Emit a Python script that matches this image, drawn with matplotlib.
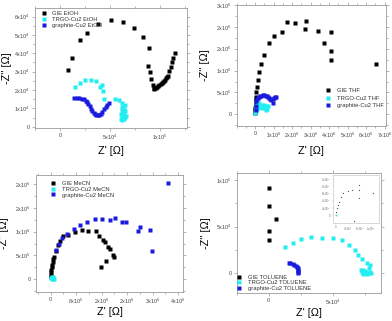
import matplotlib
matplotlib.use("Agg")
import matplotlib.pyplot as plt
from matplotlib.ticker import FixedLocator, AutoMinorLocator

plt.rcParams['font.family'] = ['Liberation Sans', 'DejaVu Sans']
plt.rcParams['mathtext.fontset'] = 'custom'
plt.rcParams['mathtext.rm'] = 'Liberation Sans'
plt.rcParams['mathtext.it'] = 'Liberation Sans'

W, H = 392, 321
BLACK, CYAN, BLUE = '#000000', '#22eef2', '#1a1adf'

# ---------------- EtOH (x in 1e3 Ohm, y in 1e4 Ohm) ----------------
gie_etoh_x = [8.3, 12.3, 20, 27.3, 38, 51, 63.3, 74.3, 83.3, 89.3, 88.3, 89.7, 91.2, 92.5,
              93.5, 94.3, 95.5, 96.7, 98.0, 99.3, 100.5, 101.7, 103.0, 104.0, 105.0, 106.0,
              107.2, 108.3, 109.3, 110.7, 112.0, 113.3, 115.0]
gie_etoh_y = [3.11, 3.77, 4.71, 5.08, 5.57, 5.80, 5.73, 5.40, 4.87, 4.31, 3.32, 2.96, 2.60, 2.30,
              2.12, 2.03, 2.09, 2.15, 2.22, 2.28, 2.34, 2.39, 2.45, 2.51, 2.57, 2.64, 2.70,
              2.75, 3.02, 3.28, 3.55, 3.74, 4.00]
trgo_etoh_x = [15, 20, 25, 30.7, 35.7, 40, 41.7, 43.3, 44, 55, 59, 61.7, 65, 62, 63.5, 61.5,
               64.5, 62.5, 64, 61, 63, 65.5, 62, 64, 62.5, 60.5, 63.5, 65, 61.5]
trgo_etoh_y = [2.15, 2.39, 2.52, 2.52, 2.48, 2.18, 2.25, 1.94, 1.53, 1.53, 1.44, 1.28, 1.17, 1.06,
               0.98, 0.92, 0.86, 0.80, 0.72, 0.68, 0.62, 0.58, 0.55, 0.50, 0.46, 0.42, 0.40, 0.52, 0.38]
graph_etoh_x = [14, 16.7, 19, 21.7, 24, 25.7, 27.3, 28.3, 29.7, 31, 32.3, 33.7, 35, 36.3,
                37.7, 39, 40.7, 42.3, 44, 45.7, 47.3, 49]
graph_etoh_y = [1.55, 1.58, 1.56, 1.52, 1.49, 1.43, 1.35, 1.26, 1.13, 0.99, 0.86, 0.77, 0.68,
                0.63, 0.63, 0.65, 0.72, 0.83, 0.95, 1.08, 1.20, 1.31]

# ---------------- THF (1e6 Ohm) ----------------
gie_thf_x = [0.0, 0.0, 0.01, 0.01, 0.02, 0.02, 0.03, 0.03, 0.02, 0.05, 0.09, 0.14, 0.23, 0.32,
             0.50, 0.74, 1.01, 1.46, 1.71, 2.16, 2.76, 2.72, 3.42, 4.09, 3.71, 4.13, 4.11, 6.54]
gie_thf_y = [0.02, 0.06, 0.10, 0.14, 0.18, 0.22, 0.28, 0.34, 0.40, 0.51, 0.62, 0.78, 0.97, 1.15,
             1.35, 1.62, 1.79, 1.89, 2.10, 2.09, 2.13, 1.96, 1.91, 1.89, 1.62, 1.45, 1.24, 1.14]
trgo_thf_x = [0.01, 0.02, 0.03, 0.05, 0.10, 0.20, 0.29, 0.38, 0.47, 0.54, 0.59, 0.63, 0.67,
              0.32, 0.23, 0.45, 0.60]
trgo_thf_y = [0.03, 0.08, 0.13, 0.18, 0.21, 0.25, 0.22, 0.20, 0.21, 0.17, 0.20, 0.12, 0.19,
              0.17, 0.14, 0.15, 0.10]
graph_thf_x = [0.02, 0.03, 0.05, 0.09, 0.14, 0.20, 0.27, 0.34, 0.41, 0.49, 0.56, 0.62, 0.68,
               0.75, 0.81, 0.88, 0.96, 0.99, 1.04, 1.08, 1.13]
graph_thf_y = [0.10, 0.20, 0.31, 0.35, 0.38, 0.40, 0.42, 0.43, 0.44, 0.44, 0.43, 0.41, 0.39,
               0.37, 0.34, 0.32, 0.27, 0.34, 0.37, 0.39, 0.40]

# ---------------- MeCN (1e6 Ohm) ----------------
gie_mecn_x = [0.0, 0.01, 0.01, 0.02, 0.03, 0.04, 0.06, 0.08, 0.11, 0.166, 0.24, 0.29, 0.40,
              0.55, 0.76, 0.97, 1.18, 1.42, 1.52, 1.65, 1.70, 1.81, 1.86, 1.96, 2.00, 1.73, 1.57]
gie_mecn_y = [0.05, 0.10, 0.15, 0.20, 0.25, 0.30, 0.36, 0.42, 0.475, 0.60, 0.71, 0.81, 0.91,
              0.93, 1.00, 1.04, 1.02, 1.01, 0.91, 0.83, 0.79, 0.67, 0.63, 0.51, 0.47, 0.38, 0.25]
trgo_mecn_x = [0.02, 0.05, 0.08, 0.06, 0.03, 0.10, 0.07, 0.04]
trgo_mecn_y = [0.02, 0.03, 0.02, 0.05, 0.04, 0.01, 0.00, 0.00]
graph_mecn_x = [0.18, 0.26, 0.36, 0.50, 0.73, 0.92, 1.15, 1.40, 1.62, 1.86, 2.03, 2.25, 2.36,
                2.73, 2.80, 3.11, 3.17, 3.67]
graph_mecn_y = [0.62, 0.74, 0.86, 0.95, 1.05, 1.14, 1.21, 1.26, 1.27, 1.25, 1.28, 1.20, 1.20,
                1.02, 1.10, 1.04, 0.59, 2.02]

# ---------------- TOLUENE (1e3 Ohm) ----------------
gie_tol_x = [0.5, 0.5, 5.7, 0.0, 0.0]
gie_tol_y = [91, 72, 58, 45.3, 35.7]
trgo_tol_x = [12.5, 18.7, 25.2, 33, 41.6, 50, 57.3, 63, 67.7, 70, 72.7, 76.8, 79.1, 78.1, 76,
              72, 73, 74, 75, 76, 77, 78, 79, 80, 73.5, 74.7]
trgo_tol_y = [28.5, 32.8, 36.4, 38.5, 38.1, 37.5, 35.7, 30, 25, 19.6, 15, 11.4, 8.9, 5.3, 1.8,
              3, 1, -0.5, 2, 0, -0.5, 0.5, 1, 0, 4, 0]
graph_tol_x = [15.6, 17, 18.7, 20, 21.3, 22.3, 22.7, 23, 23.1, 23.1, 23.1]
graph_tol_y = [11.4, 11, 10, 9, 7.8, 6.5, 5.3, 4, 2.5, 1, 0]
# inset (1e5 Ohm)
inset_x = [0, 0.1, 0.34, 0.69, 1.14, 1.7, 2.5, 4, 5.5, 7.8, 7.8, 8, 6, 12.6]
inset_y = [0, 0.93, 1.86, 2.8, 3.7, 4.9, 6.05, 6.8, 7, 8.4, 7, 4.65, -1.6, 6.2]

fig = plt.figure(figsize=(W / 100, H / 100), dpi=100)


def add_ax(left, right, top, bottom):
    return fig.add_axes([left / W, 1 - bottom / H, (right - left) / W, (bottom - top) / H])


def style(ax, xt, xl, yt, yl, xlim, ylim, ylab_px, xlab_px, left, right, top, bottom):
    ax.set_xlim(*xlim)
    ax.set_ylim(*ylim)
    ax.xaxis.set_major_locator(FixedLocator(xt))
    ax.set_xticklabels(xl)
    ax.yaxis.set_major_locator(FixedLocator(yt))
    ax.set_yticklabels(yl)
    ax.xaxis.set_minor_locator(AutoMinorLocator(2))
    ax.yaxis.set_minor_locator(AutoMinorLocator(2))
    for s in ax.spines.values():
        s.set_color('#9a9a9a')
        s.set_linewidth(0.6)
    ax.tick_params(which='both', direction='out', colors='#9a9a9a', labelcolor='#444444',
                   labelsize=3.9, width=0.5, pad=1.2)
    ax.tick_params(which='major', length=2.5)
    ax.tick_params(which='minor', length=1.5)
    ax.tick_params(which='both', top=True, right=True)
    ax.set_xlabel("Z' [\u03a9]", fontsize=7.8)
    ax.set_ylabel("-Z'' [\u03a9]", fontsize=7.8)
    ax.yaxis.set_label_coords((ylab_px - left) / (right - left), 0.5)
    ax.xaxis.set_label_coords(0.5, (bottom - xlab_px) / (bottom - top))


def sc(v, f):
    return [a * f for a in v]


def legend(ax, x, y, fs, spacing):
    ax.legend(loc='upper left', bbox_to_anchor=(x / W, 1 - y / H), bbox_transform=fig.transFigure,
              frameon=False, fontsize=fs, borderpad=0, borderaxespad=0, handlelength=1.0,
              handletextpad=0.9, labelspacing=spacing, labelcolor='#333333')


def pts(ax, x, y, c, ms, label=None):
    ax.plot(x, y, 's', color=c, ms=ms, mec='none', label=label, linestyle='none')


# Panel 1 EtOH
P1 = (35, 186.7, 8.3, 127.7)
ax1 = add_ax(*P1)
pts(ax1, sc(gie_etoh_x, 1e3), sc(gie_etoh_y, 1e4), BLACK, 2.2, 'GIE EtOH')
pts(ax1, sc(trgo_etoh_x, 1e3), sc(trgo_etoh_y, 1e4), CYAN, 2.2, 'TRGO-Cu2 EtOH')
pts(ax1, sc(graph_etoh_x, 1e3), sc(graph_etoh_y, 1e4), BLUE, 2.2, 'graphite-Cu2 EtOH')
style(ax1, [0, 5e4, 1e5], ['0', '5x10$^4$', '1x10$^5$'],
      [0, 1e4, 2e4, 3e4, 4e4, 5e4, 6e4],
      ['0', '1x10$^4$', '2x10$^4$', '3x10$^4$', '4x10$^4$', '5x10$^4$', '6x10$^4$'],
      (-2.5e4, 1.267e5), (-500, 6.45e4), 12, 146, *P1)
legend(ax1, 41, 11, 4.2, 0.12)

# Panel 2 THF
P2 = (236.7, 386, 5, 125.7)
ax2 = add_ax(*P2)
pts(ax2, sc(gie_thf_x, 1e6), sc(gie_thf_y, 1e6), BLACK, 2.6, 'GIE THF')
pts(ax2, sc(trgo_thf_x, 1e6), sc(trgo_thf_y, 1e6), CYAN, 2.6, 'TRGO-Cu2 THF')
pts(ax2, sc(graph_thf_x, 1e6), sc(graph_thf_y, 1e6), BLUE, 2.6, 'graphite-Cu2 THF')
style(ax2, [0, 1e6, 2e6, 3e6, 4e6, 5e6, 6e6, 7e6],
      ['0', '1x10$^6$', '2x10$^6$', '3x10$^6$', '4x10$^6$', '5x10$^6$', '6x10$^6$', '7x10$^6$'],
      [0, 5e5, 1e6, 1.5e6, 2e6, 2.5e6],
      ['0', '5x10$^5$', '1x10$^6$', '2x10$^6$', '2x10$^6$', '3x10$^6$'],
      (-1e6, 7.08e6), (-2.6e5, 2.5e6), 209.5, 145.5, *P2)
legend(ax2, 325.5, 88, 4.2, 0.45)

# Panel 3 MeCN
P3 = (36, 183.3, 175, 291.7)
ax3 = add_ax(*P3)
pts(ax3, sc(gie_mecn_x, 1e6), sc(gie_mecn_y, 1e6), BLACK, 2.6, 'GIE MeCN')
pts(ax3, sc(trgo_mecn_x, 1e6), sc(trgo_mecn_y, 1e6), CYAN, 3.0, 'TRGO-Cu2 MeCN')
pts(ax3, sc(graph_mecn_x, 1e6), sc(graph_mecn_y, 1e6), BLUE, 2.6, 'graphite-Cu2 MeCN')
style(ax3, [0, 8e5, 1.6e6, 2.4e6, 3.2e6, 4.0e6],
      ['0', '8x10$^5$', '2x10$^6$', '2x10$^6$', '3x10$^6$', '4x10$^6$'],
      [0, 5e5, 1e6, 1.5e6, 2e6],
      ['0', '5x10$^5$', '1x10$^6$', '2x10$^6$', '2x10$^6$'],
      (-4.6e5, 4.16e6), (-2.6e5, 2.19e6), 9, 307, *P3)
legend(ax3, 50.5, 180.5, 4.2, 0.15)

# Panel 4 TOLUENE
P4 = (236.7, 381, 173.3, 292.7)
ax4 = add_ax(*P4)
pts(ax4, sc(gie_tol_x, 1e3), sc(gie_tol_y, 1e3), BLACK, 2.8, 'GIE TOLUENE')
pts(ax4, sc(trgo_tol_x, 1e3), sc(trgo_tol_y, 1e3), CYAN, 2.8, 'TRGO-Cu2 TOLUENE')
pts(ax4, sc(graph_tol_x, 1e3), sc(graph_tol_y, 1e3), BLUE, 2.8, 'graphite-Cu2 TOLUENE')
style(ax4, [0, 5e4], ['0', '5x10$^4$'], [0, 5e4, 1e5], ['0', '5x10$^4$', '1x10$^5$'],
      (-2.5e4, 8.77e4), (-2.08e4, 1.07e5), 211, 308, *P4)
legend(ax4, 236.5, 275, 4.2, 0.05)

# Inset
axi = add_ax(333, 378.7, 175, 223.3)
axi.plot(sc(inset_x, 1e5), sc(inset_y, 1e5), 's', color='#555555', ms=0.8, mec='none')
axi.plot([0], [0], 's', color=CYAN, ms=1.2, mec='none')
axi.set_xlim(-1e5, 1.46e6)
axi.set_ylim(-2.3e5, 1.116e6)
axi.xaxis.set_major_locator(FixedLocator([0, 4e5, 8e5, 1.2e6]))
axi.set_xticklabels(['0', '4x10$^5$', '8x10$^5$', '1x10$^6$'])
axi.yaxis.set_major_locator(FixedLocator([0, 2e5, 4e5, 6e5, 8e5, 1e6]))
axi.set_yticklabels(['0', '2x10$^5$', '4x10$^5$', '6x10$^5$', '8x10$^5$', '1x10$^6$'])
for s in axi.spines.values():
    s.set_color('#bbbbbb')
    s.set_linewidth(0.4)
axi.tick_params(which='both', direction='out', length=1, width=0.3, colors='#bbbbbb',
                labelcolor='#777777', labelsize=2.2, pad=0.5)

fig.savefig('out.png', dpi=100)
